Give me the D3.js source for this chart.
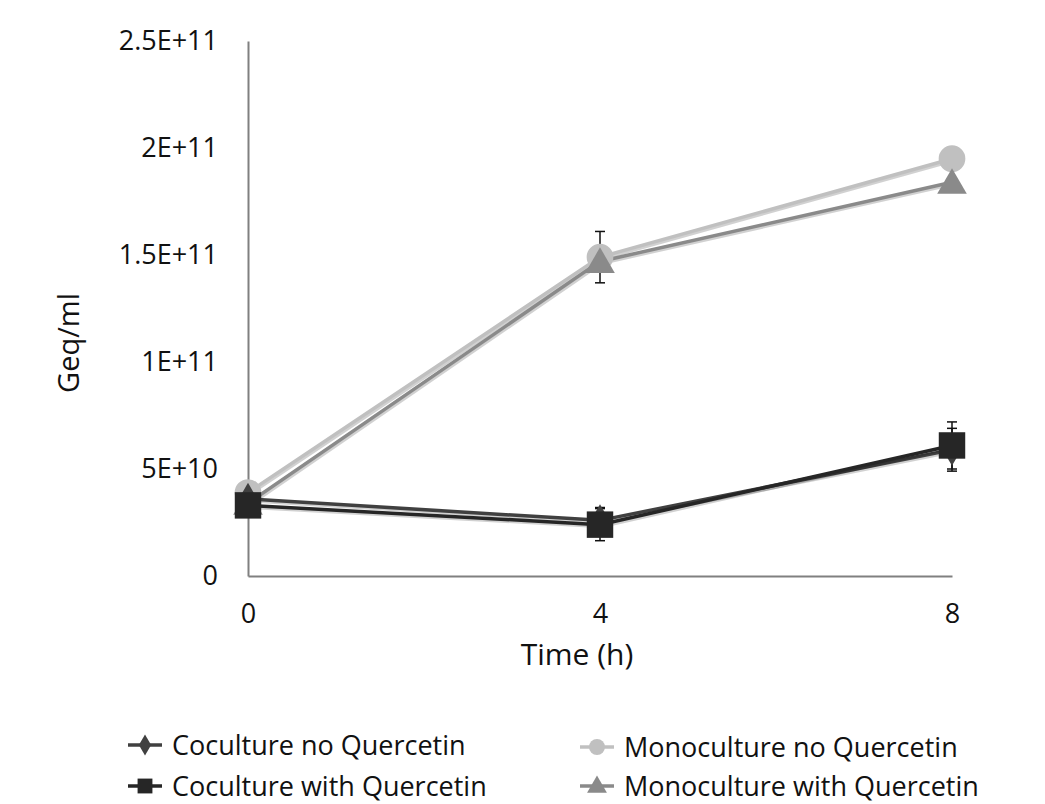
<!DOCTYPE html>
<html>
<head>
<meta charset="utf-8">
<script src="https://cdn.jsdelivr.net/npm/d3@7"></script>
<style>
  html, body { margin: 0; padding: 0; background: #fff; }
  svg { display: block; font-family: "Open Sans", "DejaVu Sans", sans-serif; }
</style>
</head>
<body>
<svg id="chart" width="1045" height="804"></svg>
<script>
// Sampling times (h)
const times = [0, 4, 8];
const xTickLabels = ["0", "4", "8"];
const yTickValues = [0, 5e10, 1e11, 1.5e11, 2e11, 2.5e11];
const yTickLabels = ["0", "5E+10", "1E+11", "1.5E+11", "2E+11", "2.5E+11"];

// Series names
const seriesNames = [
  "Coculture no Quercetin",
  "Coculture with Quercetin",
  "Monoculture no Quercetin",
  "Monoculture with Quercetin"
];

// Genome equivalents per ml
const cocultureNoQ   = [3.6e10, 2.6e10, 5.9e10];
const cocultureWithQ = [3.3e10, 2.4e10, 6.1e10];
const monoNoQ        = [3.9e10, 1.49e11, 1.95e11];
const monoWithQ      = [3.4e10, 1.47e11, 1.84e11];

// Standard deviations
const cocultureNoQErr   = [0, 6e9, 1.0e10];
const cocultureWithQErr = [0, 7.5e9, 1.1e10];
const monoNoQErr        = [0, 1.2e10, 0];
const monoWithQErr      = [0, 0, 0];

const series = [
  { name: seriesNames[2], values: monoNoQ,        err: monoNoQErr,        color: "#c0c0c0", shape: "circle" },
  { name: seriesNames[3], values: monoWithQ,      err: monoWithQErr,      color: "#8a8a8a", shape: "triangle" },
  { name: seriesNames[0], values: cocultureNoQ,   err: cocultureNoQErr,   color: "#404040", shape: "diamond" },
  { name: seriesNames[1], values: cocultureWithQ, err: cocultureWithQErr, color: "#262626", shape: "square" }
];

const svg = d3.select("#chart");
const plotLeft = 248, plotRight = 952, plotTop = 41, plotBottom = 576;

const x = d3.scaleLinear().domain([0, 8]).range([plotLeft, plotRight]);
const y = d3.scaleLinear().domain([0, 2.5e11]).range([plotBottom, plotTop]);

// Axes (no tick marks, plain gray lines)
const yAxis = d3.axisLeft(y).tickValues(yTickValues).tickSize(0).tickPadding(30)
  .tickFormat((d, i) => yTickLabels[i]);
const gy = svg.append("g").attr("transform", `translate(${plotLeft},0)`).call(yAxis);
gy.select(".domain").attr("stroke", "#808080").attr("stroke-width", 2);
gy.selectAll("text").attr("font-size", 27).attr("fill", "#111")
  .attr("font-family", "'Open Sans', sans-serif");

const xAxis = d3.axisBottom(x).tickValues(times).tickSize(0).tickPadding(28)
  .tickFormat((d, i) => xTickLabels[i]);
const gx = svg.append("g").attr("transform", `translate(0,${plotBottom})`).call(xAxis);
gx.select(".domain").attr("stroke", "#808080").attr("stroke-width", 2);
gx.selectAll("text").attr("font-size", 27).attr("fill", "#111")
  .attr("font-family", "'Open Sans', sans-serif");

// Axis titles
svg.append("text").attr("x", 577).attr("y", 665)
  .attr("text-anchor", "middle").attr("font-size", 30).attr("fill", "#111").text("Time (h)");
svg.append("text").attr("transform", `translate(79,343) rotate(-90)`)
  .attr("text-anchor", "middle").attr("font-size", 29).attr("fill", "#111").text("Geq/ml");

const symbolType = {
  circle: d3.symbolCircle,
  triangle: d3.symbolTriangle,
  diamond: d3.symbolDiamond,
  square: d3.symbolSquare
};
const symbolSize = { circle: 560, triangle: 380, diamond: 300, square: 700 };

const line = d3.line().x((d, i) => x(times[i])).y(d => y(d));

// Lines first, with a faint drop shadow
const gLines = svg.append("g");
series.forEach(s => {
  gLines.append("path").datum(s.values).attr("d", line)
    .attr("fill", "none").attr("stroke", "#000").attr("stroke-opacity", 0.18)
    .attr("stroke-width", 3).attr("transform", "translate(1.5,2)");
  gLines.append("path").datum(s.values).attr("d", line)
    .attr("fill", "none").attr("stroke", s.color).attr("stroke-width", 3.5);
});

// Error bars
const gErr = svg.append("g");
series.forEach(s => {
  s.values.forEach((v, i) => {
    const e = s.err[i];
    if (!e) return;
    const cx = x(times[i]);
    gErr.append("line").attr("x1", cx).attr("x2", cx).attr("y1", y(v + e)).attr("y2", y(v - e))
      .attr("stroke", "#111").attr("stroke-width", 1.5);
    [v + e, v - e].forEach(w => {
      gErr.append("line").attr("x1", cx - 5).attr("x2", cx + 5).attr("y1", y(w)).attr("y2", y(w))
        .attr("stroke", "#111").attr("stroke-width", 1.5);
    });
  });
});

// Markers
const gPts = svg.append("g");
series.forEach(s => {
  s.values.forEach((v, i) => {
    const dy = s.shape === "triangle" ? 3 : 0;
    gPts.append("path")
      .attr("d", d3.symbol().type(symbolType[s.shape]).size(symbolSize[s.shape]))
      .attr("transform", `translate(${x(times[i])},${y(v) + dy})`)
      .attr("fill", s.color);
  });
});

// Legend: coculture on the left, monoculture on the right
const legendItems = [
  { s: series[2], lx: 128, ly: 745 },
  { s: series[3], lx: 128, ly: 786 },
  { s: series[0], lx: 580, ly: 747 },
  { s: series[1], lx: 580, ly: 786 }
];
const legendSize = { circle: 200, triangle: 170, diamond: 130, square: 220 };
const gLeg = svg.append("g");
legendItems.forEach(({ s, lx, ly }) => {
  gLeg.append("line").attr("x1", lx).attr("x2", lx + 34).attr("y1", ly).attr("y2", ly)
    .attr("stroke", s.color).attr("stroke-width", 3.5);
  gLeg.append("path")
    .attr("d", d3.symbol().type(symbolType[s.shape]).size(legendSize[s.shape]))
    .attr("transform", `translate(${lx + 17},${ly + (s.shape === "triangle" ? 1 : 0)})`)
    .attr("fill", s.color);
  gLeg.append("text").attr("x", lx + 44).attr("y", ly + 10)
    .attr("font-size", 27).attr("fill", "#111").text(s.name);
});
</script>
</body>
</html>
